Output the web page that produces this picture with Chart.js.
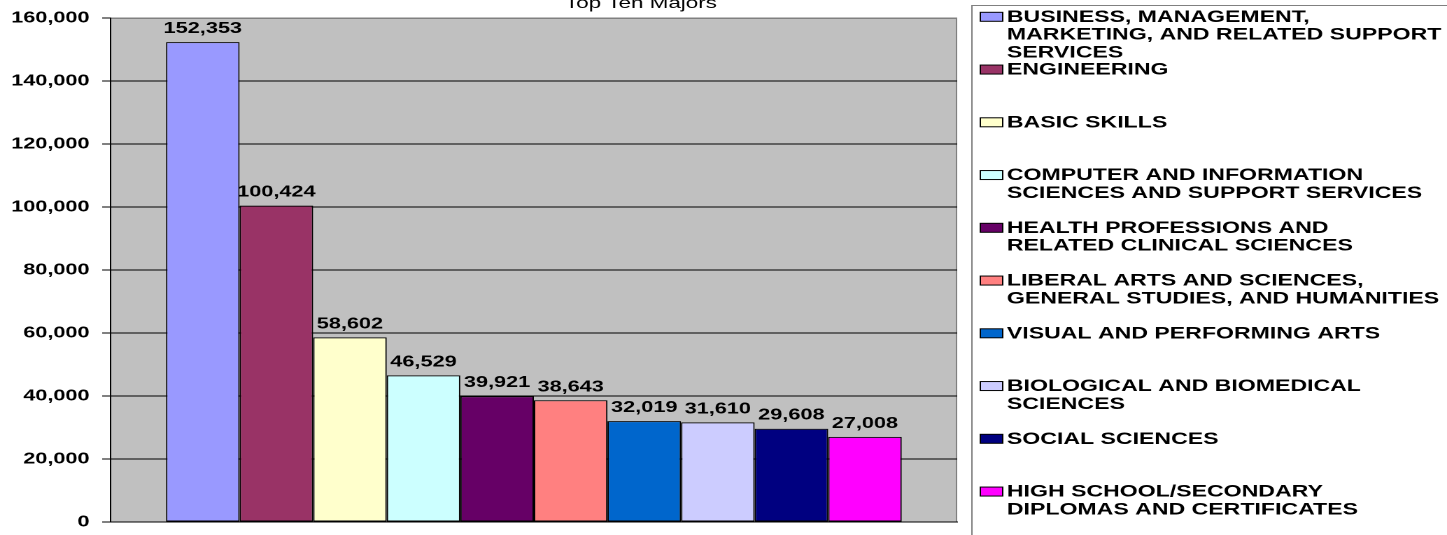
<!DOCTYPE html>
<html>
<head>
<meta charset="utf-8">
<script src="https://cdn.jsdelivr.net/npm/chart.js@4/dist/chart.umd.min.js"></script>
<style>
  html, body { margin: 0; padding: 0; background: #fff; overflow: hidden; }
  /* the original picture is stretched sideways, so draw narrow and stretch */
  #wrap { width: 1034px; height: 535px; transform: scaleX(1.39942); transform-origin: 0 0; }
</style>
</head>
<body>
<div id="wrap"><canvas id="chart" width="1034" height="535"></canvas></div>
<script>
const chartTitle = 'Top Ten Majors';

const majors = [
  ['BUSINESS, MANAGEMENT,', 'MARKETING, AND RELATED SUPPORT', 'SERVICES'],
  ['ENGINEERING'],
  ['BASIC SKILLS'],
  ['COMPUTER AND INFORMATION', 'SCIENCES AND SUPPORT SERVICES'],
  ['HEALTH PROFESSIONS AND', 'RELATED CLINICAL SCIENCES'],
  ['LIBERAL ARTS AND SCIENCES,', 'GENERAL STUDIES, AND HUMANITIES'],
  ['VISUAL AND PERFORMING ARTS'],
  ['BIOLOGICAL AND BIOMEDICAL', 'SCIENCES'],
  ['SOCIAL SCIENCES'],
  ['HIGH SCHOOL/SECONDARY', 'DIPLOMAS AND CERTIFICATES']
];

const students = [152353, 100424, 58602, 46529, 39921, 38643, 32019, 31610, 29608, 27008];

const colors = ['#9999FF', '#993366', '#FFFFCC', '#CCFFFF', '#660066',
                '#FF8080', '#0066CC', '#CCCCFF', '#000080', '#FF00FF'];

const yTicks = [0, 20000, 40000, 60000, 80000, 100000, 120000, 140000, 160000];

const FONT = '"Liberation Sans", Arial, sans-serif';
const fmt = v => v.toLocaleString('en-US');

// grey plot area, plot frame and title
const backdrop = {
  id: 'backdrop',
  beforeDraw(chart) {
    const { ctx, chartArea: a } = chart;
    ctx.save();
    ctx.fillStyle = '#C0C0C0';
    ctx.fillRect(a.left, a.top, a.right - a.left, a.bottom - a.top);
    ctx.strokeStyle = '#808080';
    ctx.lineWidth = 1;
    ctx.beginPath();
    ctx.moveTo(a.left, a.top + 0.5);
    ctx.lineTo(a.right - 0.5, a.top + 0.5);
    ctx.lineTo(a.right - 0.5, a.bottom);
    ctx.stroke();
    ctx.fillStyle = '#000';
    ctx.font = '16px ' + FONT;
    ctx.textAlign = 'center';
    ctx.textBaseline = 'alphabetic';
    ctx.fillText(chartTitle, 458, 8);
    ctx.restore();
  }
};

// value labels above each bar
const barValues = {
  id: 'barValues',
  afterDatasetsDraw(chart) {
    const ctx = chart.ctx;
    ctx.save();
    ctx.fillStyle = '#000';
    ctx.font = 'bold 15.5px ' + FONT;
    ctx.textAlign = 'center';
    ctx.textBaseline = 'alphabetic';
    chart.data.datasets.forEach((ds, i) => {
      const bar = chart.getDatasetMeta(i).data[0];
      ctx.fillText(fmt(ds.data[0]), bar.x, bar.y - 9);
    });
    ctx.restore();
  }
};

// legend on the right with wrapped names
const sideLegend = {
  id: 'sideLegend',
  afterDraw(chart) {
    const ctx = chart.ctx;
    const left = 694.5, top = 5.5;
    ctx.save();
    ctx.strokeStyle = '#808080';
    ctx.lineWidth = 1;
    ctx.beginPath();
    ctx.moveTo(left, 540);
    ctx.lineTo(left, top);
    ctx.lineTo(1040, top);
    ctx.stroke();

    ctx.font = 'bold 16.5px ' + FONT;
    ctx.textAlign = 'left';
    ctx.textBaseline = 'middle';
    majors.forEach((lines, i) => {
      const y = 16.8 + i * 52.75;
      ctx.fillStyle = colors[i];
      ctx.fillRect(700.5, y - 4.5, 16, 9);
      ctx.strokeStyle = '#000';
      ctx.strokeRect(700.5, y - 4.5, 16, 9);
      ctx.fillStyle = '#000';
      lines.forEach((t, j) => ctx.fillText(t, 719.5, y + 0.5 + j * 17.8));
    });
    ctx.restore();
  }
};

new Chart(document.getElementById('chart'), {
  type: 'bar',
  data: {
    labels: [''],
    datasets: majors.map((lines, i) => ({
      label: lines.join(' '),
      data: [students[i]],
      backgroundColor: colors[i],
      borderColor: '#000',
      borderWidth: 1,
      borderSkipped: false,
      categoryPercentage: 0.869,
      barPercentage: 1
    }))
  },
  options: {
    responsive: false,
    devicePixelRatio: 2,
    animation: false,
    layout: { padding: { top: 18, right: 350, bottom: 13, left: 0 } },
    plugins: {
      legend: { display: false },
      title: { display: false },
      tooltip: { enabled: false }
    },
    scales: {
      x: {
        ticks: { display: false },
        grid: { display: false },
        border: { display: true, color: '#000', width: 1 },
        afterFit(scale) { scale.height = 0; }
      },
      y: {
        min: 0,
        max: 160000,
        afterBuildTicks(scale) { scale.ticks = yTicks.map(v => ({ value: v })); },
        ticks: {
          color: '#000',
          padding: 9,
          font: { family: FONT, size: 15.5, weight: 'bold' },
          callback: v => fmt(v)
        },
        grid: {
          color: c => (c.tick && c.tick.value === 160000 ? '#808080' : '#000'),
          tickColor: '#000',
          tickLength: 6,
          lineWidth: 1
        },
        border: { display: true, color: '#000', width: 1 },
        afterFit(scale) {
          scale.width = 79;
          scale.paddingTop = 0;
          scale.paddingBottom = 0;
        }
      }
    }
  },
  plugins: [backdrop, barValues, sideLegend]
});
</script>
</body>
</html>
